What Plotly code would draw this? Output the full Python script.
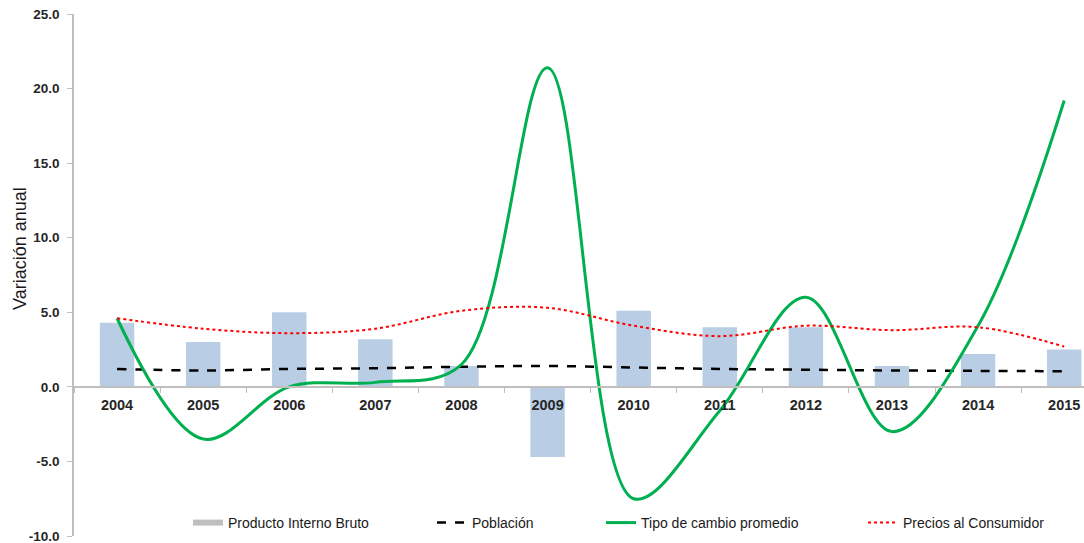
import plotly.graph_objects as go

years = ["2004", "2005", "2006", "2007", "2008", "2009", "2010", "2011", "2012", "2013", "2014", "2015"]
pib = [4.3, 3.0, 5.0, 3.2, 1.4, -4.7, 5.1, 4.0, 4.0, 1.4, 2.2, 2.5]
poblacion = [1.2, 1.1, 1.2, 1.25, 1.35, 1.4, 1.3, 1.2, 1.15, 1.1, 1.07, 1.05]
tipo_cambio = [4.6, -3.5, 0.0, 0.3, 1.5, 21.4, -7.5, -1.6, 6.0, -3.0, 4.1, 19.2]
precios = [4.6, 3.9, 3.6, 3.9, 5.1, 5.3, 4.1, 3.4, 4.1, 3.8, 4.0, 2.7]
ytick_vals = [-10, -5, 0, 5, 10, 15, 20, 25]
ytick_text = ["-10.0", "-5.0", "0.0", "5.0", "10.0", "15.0", "20.0", "25.0"]

FONT = "Liberation Sans"
L, T, B = 74, 14, 7
W, H = 1084, 543
PW = W - L
PH = H - T - B

def px2paper(px):
    return (px - L) / PW

def py2paper(py):
    return (H - B - py) / PH

fig = go.Figure()
fig.add_trace(go.Bar(x=years, y=pib, width=0.4, marker=dict(color="#B9CDE5", line=dict(width=0)),
                     showlegend=False, name="Producto Interno Bruto"))
fig.add_trace(go.Scatter(x=[None], y=[None], mode="lines", name="Producto Interno Bruto",
                         line=dict(color="#BFBFBF", width=6), legend="legend"))
fig.add_trace(go.Scatter(x=years, y=poblacion, mode="lines", name="Población",
                         line=dict(color="#000000", width=2.5, dash="dash", shape="spline"), legend="legend2"))
fig.add_trace(go.Scatter(x=years, y=tipo_cambio, mode="lines", name="Tipo de cambio promedio",
                         line=dict(color="#00B050", width=3, shape="spline", smoothing=1.0), legend="legend3"))
fig.add_trace(go.Scatter(x=years, y=precios, mode="lines", name="Precios al Consumidor",
                         line=dict(color="#FF0000", width=2, dash="dot", shape="spline"), legend="legend4"))

legfont = dict(family=FONT, size=14, color="#1a1a1a")
def leg(px):
    return dict(x=px2paper(px), y=py2paper(523), xanchor="left", yanchor="middle", orientation="h",
                font=legfont, bgcolor="rgba(0,0,0,0)", itemwidth=30)

fig.update_layout(
    width=W, height=H,
    margin=dict(l=L, r=0, t=T, b=B, autoexpand=False),
    paper_bgcolor="white", plot_bgcolor="white",
    barmode="overlay",
    font=dict(family=FONT),
    legend=leg(188), legend2=leg(432), legend3=leg(601), legend4=leg(863),
    xaxis=dict(type="category", range=[-0.5, 11.23], anchor="free", position=py2paper(387),
               showline=True, linecolor="#BFBFBF", linewidth=1.5,
               ticks="outside", tickson="boundaries", ticklen=5, tickcolor="#BFBFBF",
               ticklabelstandoff=5, automargin=False,
               tickfont=dict(family=FONT, size=14.5, color="#262626", weight="bold"),
               showgrid=False, zeroline=False),
    yaxis=dict(range=[-10, 25], tickvals=ytick_vals, ticktext=ytick_text,
               showgrid=False, zeroline=False, automargin=False,
               showline=True, linecolor="#BFBFBF", linewidth=1.5,
               ticks="outside", ticklen=5, tickcolor="#BFBFBF",
               ticklabelstandoff=5, ticklabeloverflow="allow",
               tickfont=dict(family=FONT, size=13.5, color="#262626", weight="bold")),
    annotations=[dict(text="Variación anual", x=(20 - L) / PW, y=py2paper(249),
                      xref="paper", yref="paper", xanchor="center", yanchor="middle",
                      showarrow=False, textangle=-90,
                      font=dict(family=FONT, size=18, color="#1a1a1a"))],
)

fig.write_html("out.html")
